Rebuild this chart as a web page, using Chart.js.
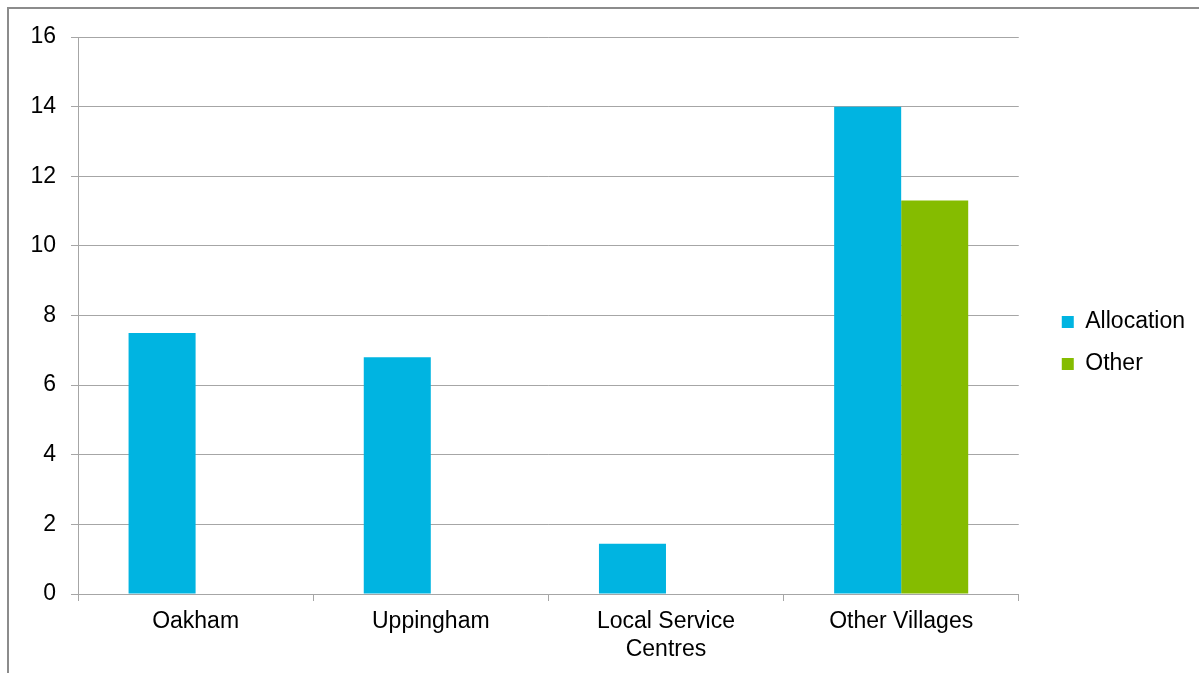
<!DOCTYPE html>
<html>
<head>
<meta charset="utf-8">
<script src="https://cdn.jsdelivr.net/npm/chart.js@4"></script>
<style>
    html, body { margin: 0; padding: 0; background: #fff; overflow: hidden; }
    #wrap { position: relative; width: 1199px; height: 673px; }
    #frame { position: absolute; left: 7px; top: 7px; width: 1300px; height: 800px; border-left: 2px solid #8c8c8c; border-top: 2px solid #8c8c8c; }
    #chart-box { position: absolute; left: 0; top: 0; width: 1199px; height: 673px; }
</style>
</head>
<body>
<div id="wrap">
    <div id="frame"></div>
    <div id="chart-box"><canvas id="dataChart"></canvas></div>
</div>
<script>
const categories = [["Oakham"], ["Uppingham"], ["Local Service", "Centres"], ["Other Villages"]];
const allocationValues = [7.5, 6.8, 1.44, 14];
const otherValues = [0, 0, 0, 11.3];
const yTicks = [0, 2, 4, 6, 8, 10, 12, 14, 16];

const gridColor = "#a6a6a6";
const font = { family: "'Liberation Sans', Arial, sans-serif", size: 23 };

// empty helper axes, only used to reserve space around the plot
const spacer = (position, size) => ({
    position: position,
    display: true,
    grid: { display: false },
    border: { display: false },
    ticks: { display: false },
    afterFit: s => { if (position === "top") s.height = size; else s.width = size; }
});

document.addEventListener("DOMContentLoaded", function () {
    const ctx = document.getElementById("dataChart").getContext("2d");
    new Chart(ctx, {
        type: "bar",
        data: {
            labels: categories,
            datasets: [
                { label: "Allocation", data: allocationValues, backgroundColor: "#00b4e1", borderWidth: 0 },
                { label: "Other", data: otherValues, backgroundColor: "#85bc00", borderWidth: 0 }
            ]
        },
        options: {
            responsive: true,
            maintainAspectRatio: false,
            animation: false,
            layout: { padding: { left: 0, top: 13, right: 4, bottom: 0 } },
            datasets: { bar: { categoryPercentage: 0.57, barPercentage: 1.0 } },
            scales: {
                x: {
                    grid: { offset: true, drawOnChartArea: false, drawTicks: true, tickLength: 7, color: gridColor },
                    border: { color: gridColor },
                    ticks: { font: font, color: "#000", padding: 7, maxRotation: 0 },
                    afterFit: s => { s.height = 79; }
                },
                y: {
                    min: 0, max: 16,
                    afterBuildTicks: s => { s.ticks = yTicks.map(v => ({ value: v })); },
                    grid: { color: gridColor, tickLength: 7 },
                    border: { color: gridColor },
                    ticks: { font: font, color: "#000", padding: 15 },
                    afterFit: s => { s.width = 78; }
                },
                gapTop: spacer("top", 24),
                gapRight: spacer("right", 24)
            },
            plugins: {
                legend: {
                    position: "right",
                    labels: { font: font, color: "#000", boxWidth: 12, boxHeight: 12, padding: 19 }
                },
                tooltip: { enabled: false }
            }
        }
    });
});
</script>
</body>
</html>
